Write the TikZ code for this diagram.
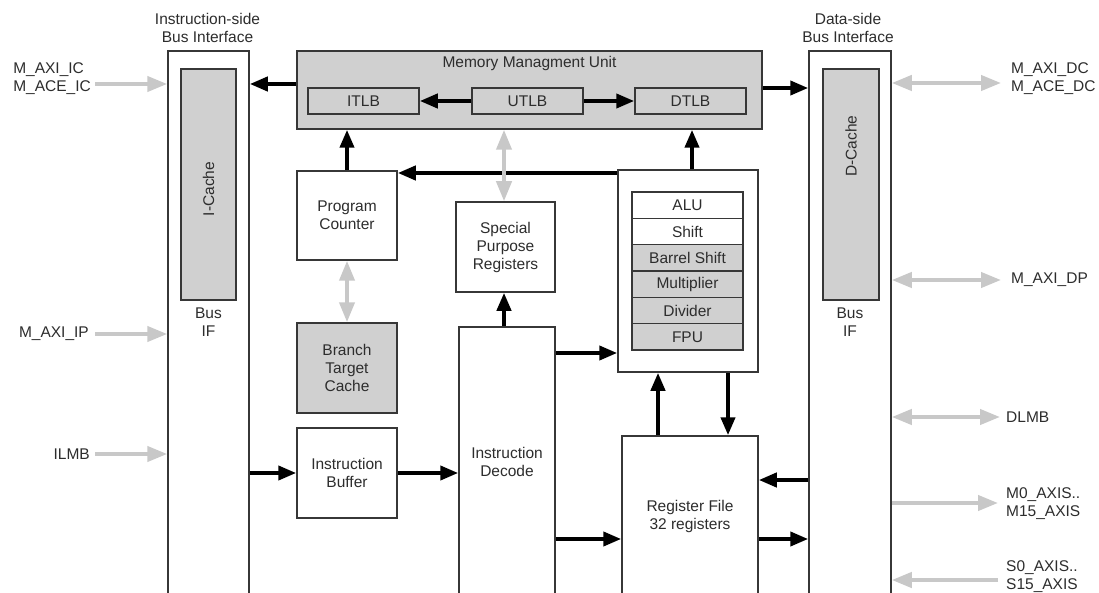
\documentclass[tikz,border=0pt]{standalone}
\usepackage{fontspec}
\setmainfont{Liberation Sans}
\usetikzlibrary{arrows.meta}
\definecolor{boxgray}{RGB}{208,208,208}
\definecolor{linegray}{RGB}{200,200,200}
\definecolor{ink}{RGB}{45,45,45}
\definecolor{edge}{RGB}{55,55,55}

\begin{document}
\begin{tikzpicture}[x=1pt,y=-1pt,
  every node/.style={font=\fontsize{15.5}{18}\selectfont, text=ink, inner sep=0pt, align=center},
  blk/.style={draw=edge, line width=1.5pt, fill=white, rectangle},
  graybox/.style={blk, fill=boxgray},
  sized/.style 2 args={minimum width=#1, minimum height=#2},
  arr/.style={draw=black, line width=4pt, -{Triangle[length=18pt,width=14pt]}},
  garr/.style={draw=linegray, line width=4pt, -{Triangle[length=20pt,width=15pt]}},
  gdarr/.style={draw=linegray, line width=4pt, {Triangle[length=20pt,width=15pt]}-{Triangle[length=20pt,width=15pt]}},
]
\useasboundingbox (0,0) rectangle (1099,593);
\clip (0,0) rectangle (1099,593);
\fill[white] (0,0) rectangle (1099,593);

% bus interfaces
\node[blk, sized={81pt}{549pt}] (iside) at (208.5,325.5) {};
\node[graybox, sized={55pt}{231pt}] (icache) at (208.5,184.5) {};
\node[rotate=90] (icachetxt) at (208.5,189) {I-Cache};
\node (ibusif) at (208.5,322.5) {Bus\\IF};
\node (ititle) at (207.5,27.5) {Instruction-side\\Bus Interface};

\node[blk, sized={82pt}{549pt}] (dside) at (850,325.5) {};
\node[graybox, sized={56pt}{231pt}] (dcache) at (851,184.5) {};
\node[rotate=90] (dcachetxt) at (851,146) {D-Cache};
\node (dbusif) at (850,322.5) {Bus\\IF};
\node (dtitle) at (848,27.5) {Data-side\\Bus Interface};

% memory management unit
\node[graybox, sized={465pt}{78pt}] (mmu) at (529.5,90) {};
\node (mmutitle) at (529.5,63) {Memory Managment Unit};
\node[graybox, sized={111pt}{26pt}] (itlb) at (363.5,101) {ITLB};
\node[graybox, sized={111pt}{26pt}] (utlb) at (527.5,101) {UTLB};
\node[graybox, sized={111pt}{26pt}] (dtlb) at (690.5,101) {DTLB};

% pipeline blocks
\node[blk, sized={100pt}{89pt}] (pc) at (347,215.5) {Program\\Counter};
\node[blk, sized={99pt}{90pt}] (spr) at (505.5,247) {Special\\Purpose\\Registers};
\node[graybox, sized={100pt}{90pt}] (btc) at (347,368) {Branch\\Target\\Cache};
\node[blk, sized={100pt}{90pt}] (ib) at (347,473) {Instruction\\Buffer};
\node[blk, sized={96pt}{270pt}] (id) at (507,462) {Instruction\\Decode};
\node[blk, sized={136pt}{161pt}] (rf) at (690,516.5) {Register File\\32 registers};

% execution units
\node[blk, sized={140pt}{202pt}] (alu) at (688,271) {};
\node[blk, sized={111pt}{26.33pt}] (ualu) at (687.5,205.2) {ALU};
\node[blk, sized={111pt}{26.33pt}] (ushift) at (687.5,231.5) {Shift};
\node[graybox, sized={111pt}{26.33pt}] (ubarrel) at (687.5,257.8) {Barrel Shift};
\node[graybox, sized={111pt}{26.33pt}] (umul) at (687.5,284.2) {Multiplier};
\node[graybox, sized={111pt}{26.33pt}] (udiv) at (687.5,310.5) {Divider};
\node[graybox, sized={111pt}{26.33pt}] (ufpu) at (687.5,336.8) {FPU};

% external port labels
\node[anchor=east, align=left] (labIC) at (91,79) {M\_AXI\_IC\\M\_ACE\_IC};
\node[anchor=east] (labIP) at (89,334) {M\_AXI\_IP};
\node[anchor=east] (labILMB) at (90,454) {ILMB};
\node[anchor=west, align=left] (labDC) at (1011,79) {M\_AXI\_DC\\M\_ACE\_DC};
\node[anchor=west] (labDP) at (1011,280) {M\_AXI\_DP};
\node[anchor=west] (labDLMB) at (1006,417) {DLMB};
\node[anchor=west, align=left] (labM) at (1006,504) {M0\_AXIS..\\M15\_AXIS};
\node[anchor=west, align=left] (labS) at (1006,576.5) {S0\_AXIS..\\S15\_AXIS};

% external bus connections
\draw[garr, shorten <=4pt] (labIC.east |- 0,84) -- (iside.west |- 0,84);
\draw[garr, shorten <=6pt] (labIP.east |- 0,334) -- (iside.west |- 0,334);
\draw[garr, shorten <=5pt] (labILMB.east |- 0,454) -- (iside.west |- 0,454);
\draw[gdarr, shorten >=10pt] (dside.east |- 0,83) -- (labDC.west |- 0,83);
\draw[gdarr, shorten >=10pt] (dside.east |- 0,280) -- (labDP.west |- 0,280);
\draw[gdarr, shorten >=6pt] (dside.east |- 0,417) -- (labDLMB.west |- 0,417);
\draw[garr, shorten >=8pt] (dside.east |- 0,503) -- (labM.west |- 0,503);
\draw[garr, shorten <=8pt] (labS.west |- 0,580) -- (dside.east |- 0,580);

% internal data paths
\draw[arr] (mmu.west |- 0,84) -- (iside.east |- 0,84);
\draw[arr] (mmu.east |- 0,88) -- (dside.west |- 0,88);
\draw[arr] (utlb.west) -- (itlb.east);
\draw[arr] (utlb.east) -- (dtlb.west);
\draw[arr] (pc.north) -- (pc.north |- mmu.south);
\draw[arr] (alu.north -| 692,0) -- (mmu.south -| 692,0);
\draw[arr] (alu.west |- 0,173) -- (pc.east |- 0,173);
\draw[gdarr] (spr.north -| 504,0) -- (mmu.south -| 504,0);
\draw[gdarr] (pc.south) -- (btc.north);
\draw[arr] (id.north -| 504,0) -- (spr.south -| 504,0);
\draw[arr] (iside.east |- ib.west) -- (ib.west);
\draw[arr] (ib.east) -- (id.west |- ib.east);
\draw[arr] (id.east |- 0,353) -- (alu.west |- 0,353);
\draw[arr] (id.east |- 0,539) -- (rf.west |- 0,539);
\draw[arr] (rf.north -| 658,0) -- (alu.south -| 658,0);
\draw[arr] (alu.south -| 728,0) -- (rf.north -| 728,0);
\draw[arr] (dside.west |- 0,480) -- (rf.east |- 0,480);
\draw[arr] (rf.east |- 0,539) -- (dside.west |- 0,539);
\end{tikzpicture}
\end{document}
